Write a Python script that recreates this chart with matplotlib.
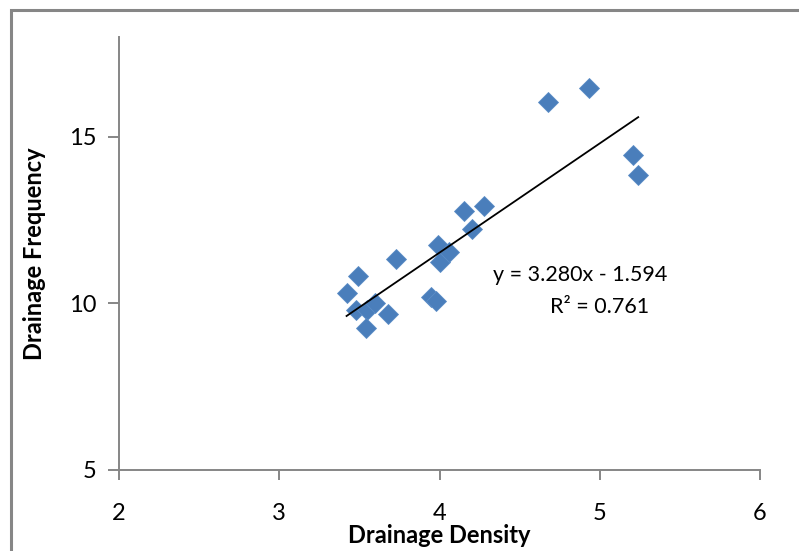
import matplotlib
matplotlib.use("Agg")
import matplotlib.pyplot as plt
from matplotlib.patches import Rectangle
import numpy as np

# ---------------------------------------------------------------------------
# Data
# ---------------------------------------------------------------------------
density = [3.42, 3.49, 3.48, 3.55, 3.60, 3.54, 3.68, 3.73, 3.95, 3.98,
           3.99, 4.00, 4.06, 4.15, 4.20, 4.28, 4.68, 4.93, 5.21, 5.24]
frequency = [10.30, 10.82, 9.80, 9.80, 10.00, 9.25, 9.68, 11.32, 10.18, 10.08,
             11.75, 11.25, 11.55, 12.77, 12.25, 12.92, 16.04, 16.46, 14.47, 13.85]

slope = 3.280
intercept = -1.594
r_squared = 0.761

x_ticks = [2, 3, 4, 5, 6]
y_ticks = [5, 10, 15]

AXIS_GREY = "#868686"
MARKER_BLUE = "#4a7ebb"
FONT = ["Lato", "DejaVu Sans"]

plt.rcParams["font.family"] = FONT

fig = plt.figure(figsize=(7.99, 5.51), dpi=100)
ax = fig.add_axes([119 / 799, 1 - 470 / 551, (760 - 119) / 799, (470 - 37) / 551])

# outer chart-area border (runs off the right/bottom of the image)
fig.patches.append(Rectangle((11 / 799, -0.2), 1.2, 1.2 - 10 / 551,
                             transform=fig.transFigure, fill=False,
                             edgecolor=AXIS_GREY, linewidth=2.2))

ax.plot(density, frequency, linestyle="none", marker="D", markersize=10.5,
        color=MARKER_BLUE, markeredgecolor="#5b8cc6", markeredgewidth=0.6,
        zorder=3)

# linear trendline across the data range
xs = np.array([min(density), max(density)])
ax.plot(xs, slope * xs + intercept, color="black", linewidth=1.3, zorder=4)

ax.text(4.88, 10.85, f"y = {slope:.3f}x - {abs(intercept):.3f}", ha="center",
        va="center", fontsize=15.5)
ax.text(5.00, 9.89, f"R² = {r_squared:.3f}", ha="center", va="center",
        fontsize=15.5)

ax.set_xlim(2, 6)
ax.set_ylim(5, 18)
ax.set_xticks(x_ticks)
ax.set_yticks(y_ticks)

for side in ("top", "right"):
    ax.spines[side].set_visible(False)
for side in ("left", "bottom"):
    ax.spines[side].set_color(AXIS_GREY)
    ax.spines[side].set_linewidth(1.4)

ax.tick_params(axis="x", direction="out", length=7, width=1.4,
               color=AXIS_GREY, labelsize=17, pad=17)
ax.tick_params(axis="y", direction="out", length=8, width=1.4,
               color=AXIS_GREY, labelsize=17, pad=8)

ax.set_xlabel("Drainage Density", fontsize=17, fontweight="bold", labelpad=0)
ax.set_ylabel("Drainage Frequency", fontsize=17, fontweight="bold", labelpad=17)

fig.savefig("out.png", dpi=100)
